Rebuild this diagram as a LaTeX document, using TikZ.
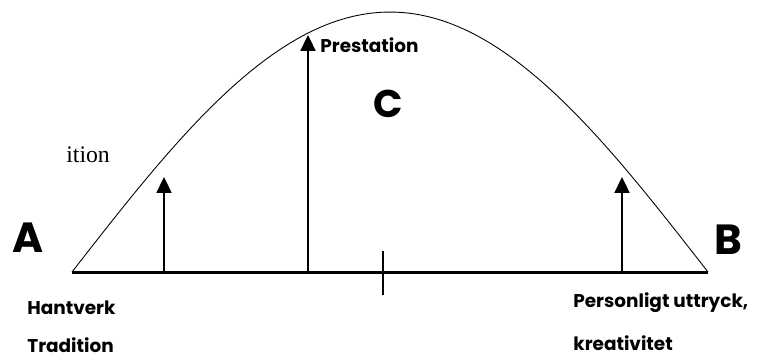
\documentclass[tikz,border=0pt]{standalone}
\usepackage{fontspec}
\setmainfont{Liberation Serif}
\newfontfamily\labelfont{Poppins}
\usetikzlibrary{arrows.meta}

\begin{document}
\begin{tikzpicture}[
x=0.02cm, y=-0.02cm,
every node/.style={
inner sep=0pt,
font=\labelfont\bfseries\fontsize{10.5}{12}\selectfont
},
letter/.style={font=\labelfont\bfseries\fontsize{24}{28}\selectfont},
axis/.style={line width=1.7pt},
rise/.style={line width=1.1pt, -{Triangle[width=8.5pt,length=9pt]}}
]
\useasboundingbox (0,0) rectangle (760,363);

% baseline and curve
\coordinate (left) at (72,272);
\coordinate (right) at (708,272);
\coordinate (mid) at (383,272);
\draw[axis] (left) -- (right);
\draw[line width=1.3pt] ([yshift=-0.45cm]mid) -- ([yshift=0.42cm]mid);
\draw[line width=0.5pt] plot[domain=0:180, samples=80] ({72+3.5333*\x}, {272-260*sin(\x)});

% arrows
\coordinate (b1) at (164,272);
\coordinate (t1) at (164,177);
\coordinate (b2) at (308,272);
\coordinate (t2) at (308,35);
\coordinate (b3) at (622,272);
\coordinate (t3) at (622,177);
\draw[rise] (b1) -- (t1);
\draw[rise] (b2) -- (t2);
\draw[rise] (b3) -- (t3);

% labels
\node[letter] (a) at (28,238) {A};
\node[letter] (b) at (728,240) {B};
\node[letter, font=\labelfont\bfseries\fontsize{22}{24}\selectfont] (c) at (388,104) {C};
\node[anchor=west] (prest) at (320,45) {Prestation};
\node[anchor=west] (hant) at (27,308) {Hantverk};
\node[anchor=west] (trad) at (27,345) {Tradition};
\node[anchor=west] (pers) at (573,303) {Personligt uttryck,};
\node[anchor=west] (krea) at (573,343) {kreativitet};
\node[anchor=west, font=\rmfamily\fontsize{13.5}{15}\selectfont] (frag) at (66,155) {ition};

\end{tikzpicture}
\end{document}
